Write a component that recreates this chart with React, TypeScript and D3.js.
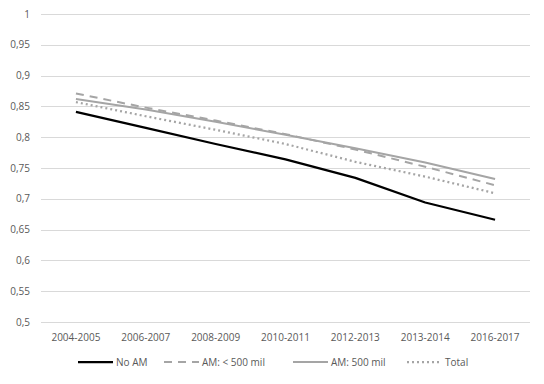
import React, { useEffect, useRef } from 'react';
import * as d3 from 'd3';

const periods = ['2004-2005', '2006-2007', '2008-2009', '2010-2011', '2012-2013', '2013-2014', '2016-2017'];
const noAM = [0.841, 0.815, 0.789, 0.764, 0.734, 0.694, 0.666];
const amSmall = [0.871, 0.848, 0.827, 0.805, 0.780, 0.752, 0.722];
const amLarge = [0.862, 0.845, 0.825, 0.804, 0.782, 0.759, 0.732];
const total = [0.857, 0.834, 0.812, 0.789, 0.760, 0.736, 0.709];
const yTicks = [0.5, 0.55, 0.6, 0.65, 0.7, 0.75, 0.8, 0.85, 0.9, 0.95, 1];

const series = [
  { name: 'No AM', values: noAM, color: '#000000', width: 2.25, dash: null },
  { name: 'AM: < 500 mil', values: amSmall, color: '#a5a5a5', width: 2, dash: '8,6' },
  { name: 'AM: 500 mil', values: amLarge, color: '#a5a5a5', width: 2, dash: null },
  { name: 'Total', values: total, color: '#a5a5a5', width: 2.25, dash: '2,3' },
];

const App = () => {
  const ref = useRef(null);

  useEffect(() => {
    const width = 544;
    const height = 384;
    const margin = { top: 14, right: 14, bottom: 62, left: 41 };
    const font = 'Open Sans, Liberation Sans, sans-serif';

    const svg = d3.select(ref.current);
    svg.selectAll('*').remove();

    // chart border
    svg.append('rect')
      .attr('x', 0.5).attr('y', 0.5)
      .attr('width', width - 1).attr('height', height - 1)
      .attr('fill', '#fff').attr('stroke', '#d9d9d9');

    const x = d3.scaleBand()
      .domain(periods)
      .range([margin.left, width - margin.right]);

    const y = d3.scaleLinear()
      .domain([0.5, 1])
      .range([height - margin.bottom, margin.top]);

    // grid
    svg.append('g').selectAll('line')
      .data(yTicks).enter()
      .append('line')
      .attr('x1', margin.left).attr('x2', width - margin.right)
      .attr('y1', d => Math.round(y(d)) + 0.5).attr('y2', d => Math.round(y(d)) + 0.5)
      .attr('stroke', '#d9d9d9').attr('stroke-width', 1);

    // y labels
    svg.append('g').selectAll('text')
      .data(yTicks).enter()
      .append('text')
      .attr('x', 30).attr('y', d => y(d) + 3.5)
      .attr('text-anchor', 'end')
      .attr('font-family', font).attr('font-size', 10).attr('fill', '#595959')
      .text(d => String(d).replace('.', ','));

    // x labels
    svg.append('g').selectAll('text')
      .data(periods).enter()
      .append('text')
      .attr('x', d => x(d) + x.bandwidth() / 2).attr('y', 341)
      .attr('text-anchor', 'middle')
      .attr('font-family', font).attr('font-size', 10).attr('fill', '#595959')
      .text(d => d);

    const line = d3.line()
      .x((d, i) => x(periods[i]) + x.bandwidth() / 2)
      .y(d => y(d));

    series.forEach(s => {
      svg.append('path')
        .datum(s.values)
        .attr('d', line)
        .attr('fill', 'none')
        .attr('stroke', s.color)
        .attr('stroke-width', s.width)
        .attr('stroke-dasharray', s.dash)
        .attr('stroke-linejoin', 'round');
    });

    // legend
    const legendX = [78, 164, 293, 407];
    const legend = svg.append('g');
    series.forEach((s, i) => {
      legend.append('line')
        .attr('x1', legendX[i]).attr('x2', legendX[i] + 35)
        .attr('y1', 362).attr('y2', 362)
        .attr('stroke', s.color)
        .attr('stroke-width', s.width)
        .attr('stroke-dasharray', s.dash);
      legend.append('text')
        .attr('x', legendX[i] + 38).attr('y', 365.5)
        .attr('font-family', font).attr('font-size', 10).attr('fill', '#595959')
        .text(s.name);
    });
  }, []);

  return <svg ref={ref} width={544} height={384} style={{ display: 'block', margin: -8 }} />;
};

export default App;
